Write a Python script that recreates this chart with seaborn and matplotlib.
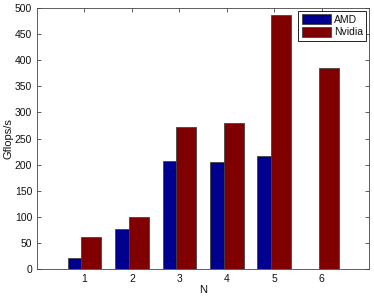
import numpy as np
import pandas as pd
import matplotlib
matplotlib.use("Agg")
import matplotlib.pyplot as plt
import seaborn as sns

N = [1, 2, 3, 4, 5, 6]
amd = [21, 77, 207, 206, 216, 0]
nvidia = [61, 100, 273, 280, 487, 386]
yticks = list(range(0, 501, 50))

sns.set_style("ticks")
plt.rcParams['font.family'] = ['Liberation Sans', 'DejaVu Sans']
plt.rcParams['text.color'] = '#111111'
plt.rcParams['axes.labelcolor'] = '#111111'
plt.rcParams['xtick.color'] = '#444444'
plt.rcParams['ytick.color'] = '#444444'
plt.rcParams['xtick.labelcolor'] = '#111111'
plt.rcParams['ytick.labelcolor'] = '#111111'

fig = plt.figure(figsize=(3.74, 2.97), dpi=100)
ax = fig.add_axes([0.099, 0.094, 0.888, 0.879])

off = 0.145
df_a = pd.DataFrame({"x": np.array(N) - off, "y": amd})
df_n = pd.DataFrame({"x": np.array(N) + off, "y": nvidia})
sns.barplot(data=df_a, x="x", y="y", native_scale=True, width=0.42,
            color="#00008F", saturation=1, edgecolor="#444444", linewidth=0.6,
            ax=ax, label="AMD")
sns.barplot(data=df_n, x="x", y="y", native_scale=True, width=0.42,
            color="#800000", saturation=1, edgecolor="#444444", linewidth=0.6,
            ax=ax, label="Nvidia")

ax.set_xlim(0, 7)
ax.set_ylim(0, 500)
ax.set_xticks(N)
ax.set_xticklabels([str(n) for n in N])
ax.set_yticks(yticks)
ax.tick_params(direction="in", length=3, width=0.6, labelsize=7.5,
               top=True, right=True)
for s in ax.spines.values():
    s.set_visible(True)
    s.set_linewidth(0.6)
    s.set_color("#444444")
ax.set_xlabel("N", fontsize=8, labelpad=0.5)
ax.set_ylabel("Gflops/s", fontsize=8, labelpad=1)

leg = ax.legend(loc="upper right", fontsize=7.5, frameon=True, fancybox=False,
                borderaxespad=0.3, handlelength=2.8, handleheight=1.1,
                borderpad=0.3, labelspacing=0.2, handletextpad=0.3)
leg.get_frame().set_edgecolor("black")
leg.get_frame().set_linewidth(0.6)
leg.get_frame().set_alpha(1)

fig.savefig("out.png", dpi=100)
